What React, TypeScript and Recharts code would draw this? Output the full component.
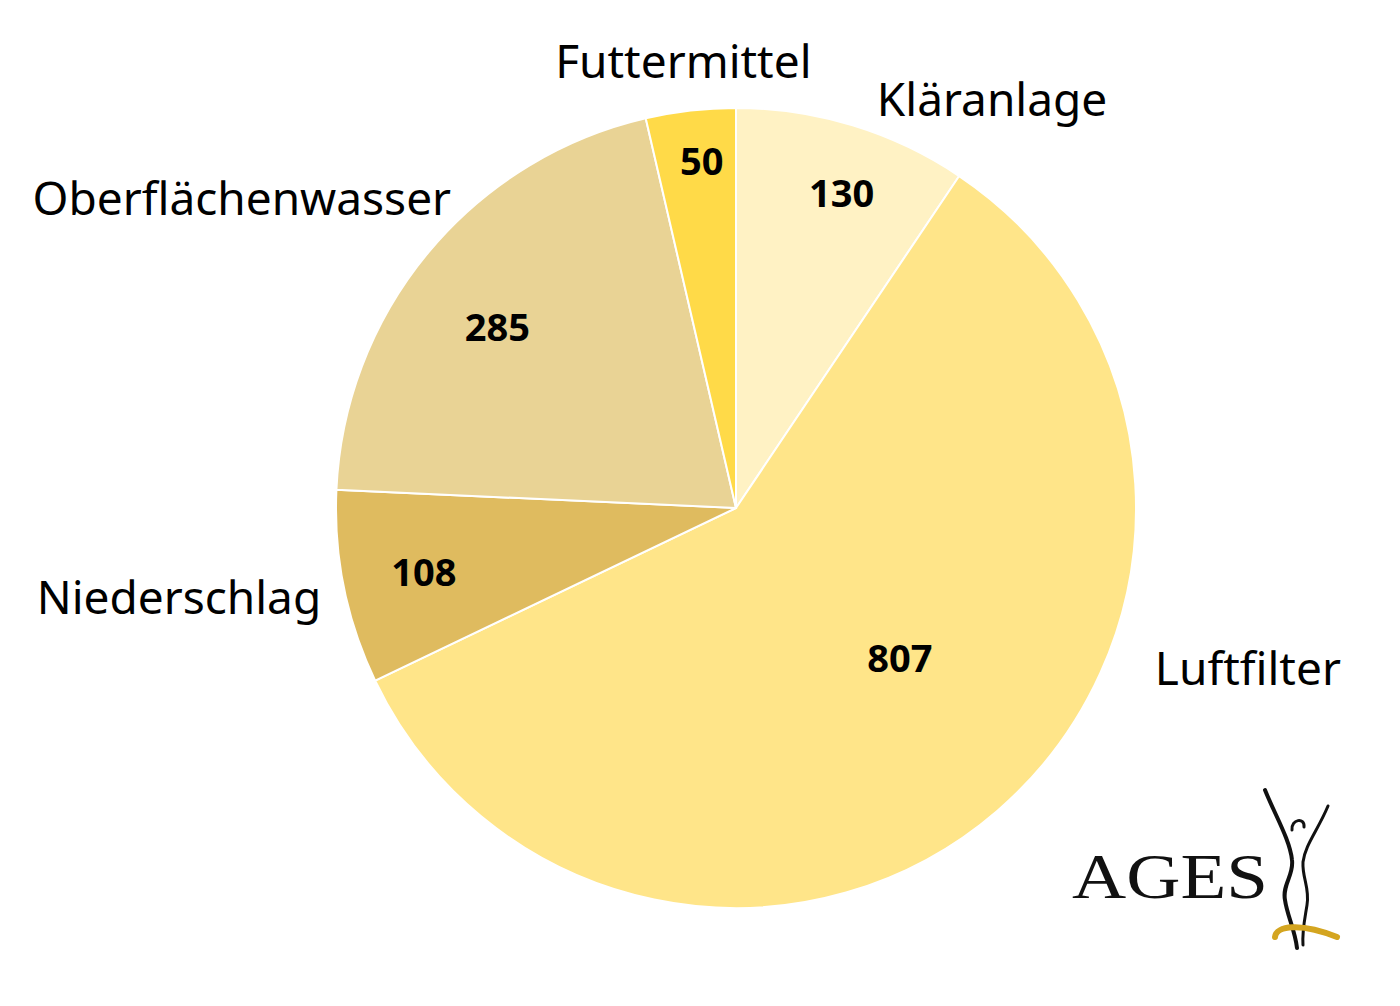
import React from "react";
import { PieChart, Pie, Cell } from "recharts";

const categories = ["Kläranlage", "Luftfilter", "Niederschlag", "Oberflächenwasser", "Futtermittel"];
const values = [130, 807, 108, 285, 50];
const colors = ["#FFF2C4", "#FFE589", "#DFBB5F", "#E9D395", "#FFDA48"];

// label layout: angle clockwise from 12 o'clock (deg), radius as factor of outer radius
const innerLabelAngle = [18.5, 132.3, 258.6, 307.3, 354.4];
const innerLabelRadius = [0.833, 0.554, 0.796, 0.75, 0.875];
const outerLabelAngle = [32.0, 107.25, 261.0, 302.2, 353.3];
const outerLabelRadius = [1.208, 1.34, 1.41, 1.46, 1.128];

const data = categories.map((name, i) => ({ name, value: values[i] }));

const FONT = "'Noto Sans', 'Open Sans', sans-serif";

const polar = (cx: number, cy: number, r: number, deg: number) => {
  const rad = (deg * Math.PI) / 180;
  return { x: cx + r * Math.sin(rad), y: cy - r * Math.cos(rad) };
};

const renderLabel = (props: any) => {
  const { cx, cy, outerRadius, index } = props;
  const inner = polar(cx, cy, outerRadius * innerLabelRadius[index], innerLabelAngle[index]);
  const outer = polar(cx, cy, outerRadius * outerLabelRadius[index], outerLabelAngle[index]);
  return (
    <g key={`lbl-${index}`}>
      <text x={inner.x} y={inner.y} textAnchor="middle" dominantBaseline="central" fontFamily={FONT} fontWeight={700} fontSize={38} fill="#000">
        {values[index]}
      </text>
      <text x={outer.x} y={outer.y} textAnchor="middle" dominantBaseline="central" fontFamily={FONT} fontSize={46} fill="#000">
        {categories[index]}
      </text>
    </g>
  );
};

export default function App() {
  return (
    <div style={{ position: "absolute", left: 0, top: 0, width: 1400, height: 1006, background: "#fff" }}>
      <PieChart width={1400} height={1006} margin={{ top: 0, right: 0, bottom: 0, left: 0 }}>
        <Pie
          data={data}
          dataKey="value"
          nameKey="name"
          cx={736}
          cy={508}
          outerRadius={400}
          startAngle={90}
          endAngle={-270}
          stroke="#ffffff"
          strokeWidth={2}
          label={renderLabel}
          labelLine={false}
          isAnimationActive={false}
        >
          {data.map((d, i) => (
            <Cell key={d.name} fill={colors[i]} />
          ))}
        </Pie>
      </PieChart>
      <svg width={1400} height={1006} style={{ position: "absolute", left: 0, top: 0, pointerEvents: "none" }}>
        <text x={1072} y={898} fontFamily="'Liberation Serif', 'DejaVu Serif', serif" fontSize={64} textLength={196} lengthAdjust="spacingAndGlyphs" fill="#111">
          AGES
        </text>
        <path d="M1265,790 C1275,815 1290,840 1292,860 C1294,875 1282,885 1285,900 C1287,915 1295,930 1297,948" stroke="#111" strokeWidth={4} fill="none" strokeLinecap="round" />
        <path d="M1328,806 C1318,830 1305,845 1303,862 C1302,878 1310,888 1307,905 C1305,918 1302,930 1303,945" stroke="#111" strokeWidth={3} fill="none" strokeLinecap="round" />
        <path d="M1292,830 C1291,819 1305,817 1304,827" stroke="#111" strokeWidth={3} fill="none" strokeLinecap="round" />
        <path d="M1275,937 C1276,926 1300,922 1337,937" stroke="#D4A520" strokeWidth={6} fill="none" strokeLinecap="round" />
      </svg>
    </div>
  );
}
